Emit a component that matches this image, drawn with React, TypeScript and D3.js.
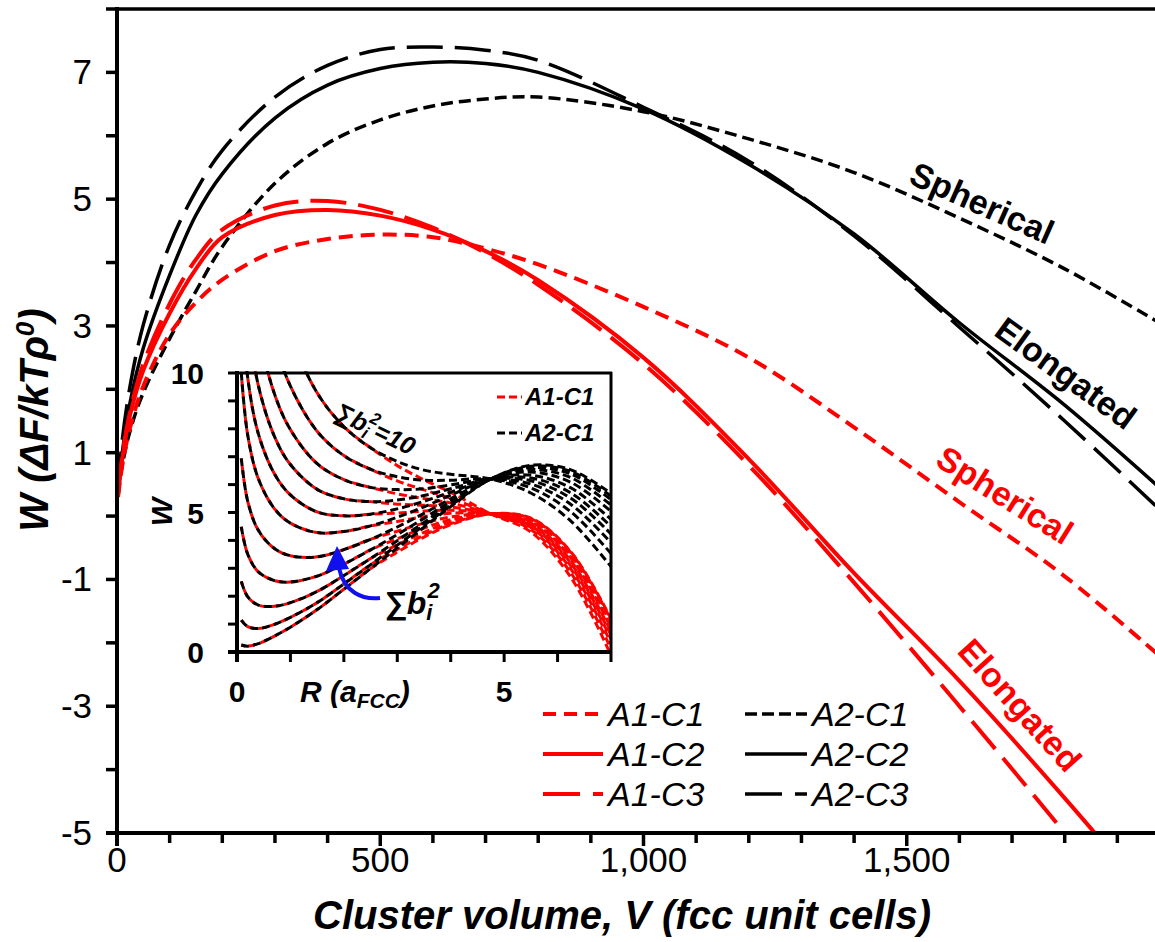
import React from 'react';
import * as d3 from 'd3';

// ---------- main chart data ----------
const volumes = [2, 10, 25, 50, 100, 150, 200, 300, 400, 500, 600, 700, 800, 1000, 1200, 1400, 1600, 1800, 2000];
const wA1C1 = [0.3, 0.8, 1.4, 2.05, 2.87, 3.37, 3.73, 4.18, 4.37, 4.44, 4.4, 4.22, 3.97, 3.3, 2.5, 1.4, 0.22, -0.95, -2.35];
const wA1C2 = [0.35, 0.9, 1.6, 2.3, 3.2, 3.9, 4.4, 4.75, 4.83, 4.74, 4.52, 4.18, 3.72, 2.5, 0.9, -0.9, -2.6, -4.45, -6.4];
const wA1C3 = [0.35, 0.95, 1.65, 2.4, 3.35, 4.05, 4.52, 4.9, 4.97, 4.83, 4.55, 4.15, 3.65, 2.4, 0.8, -1.05, -3.0, -5.0, -7.1];
const wA2C1 = [0.35, 0.8, 1.35, 1.95, 2.8, 3.55, 4.25, 5.25, 5.88, 6.25, 6.47, 6.58, 6.61, 6.38, 5.95, 5.42, 4.7, 3.9, 2.95];
const wA2C2 = [0.4, 1.0, 1.8, 2.65, 3.8, 4.75, 5.4, 6.28, 6.8, 7.06, 7.16, 7.14, 7.0, 6.42, 5.55, 4.45, 3.05, 1.75, 0.3];
const wA2C3 = [0.45, 1.2, 2.06, 3.02, 4.28, 5.13, 5.77, 6.61, 7.11, 7.36, 7.4, 7.35, 7.19, 6.45, 5.6, 4.42, 2.98, 1.5, -0.05];

const seriesNames = ['A1-C1', 'A1-C2', 'A1-C3', 'A2-C1', 'A2-C2', 'A2-C3'];
const seriesValues = [wA1C1, wA1C2, wA1C3, wA2C1, wA2C2, wA2C3];

const xTickLabels = [0, 500, 1000, 1500];
const yTickLabels = [-5, -3, -1, 1, 3, 5, 7];

// ---------- inset data ----------
const insetR = [0.08, 0.2, 0.4, 0.7, 1.0, 1.5, 2.0, 2.5, 3.0, 3.5, 4.0, 4.75, 5.5, 6.25, 7.0];
const insetA2C1 = [
  [0.25, 0.21, 0.30, 0.57, 0.89, 1.52, 2.25, 2.99, 3.73, 4.47, 5.21, 6.2, 6.69, 6.53, 5.68],
  [1.14, 0.91, 0.84, 0.99, 1.24, 1.77, 2.44, 3.13, 3.83, 4.54, 5.25, 6.2, 6.66, 6.47, 5.59],
  [2.53, 1.98, 1.68, 1.64, 1.77, 2.17, 2.74, 3.35, 3.99, 4.64, 5.31, 6.2, 6.61, 6.38, 5.46],
  [4.49, 3.51, 2.87, 2.56, 2.51, 2.72, 3.15, 3.66, 4.21, 4.79, 5.39, 6.2, 6.54, 6.25, 5.27],
  [6.94, 5.41, 4.36, 3.71, 3.45, 3.41, 3.67, 4.04, 4.48, 4.97, 5.49, 6.2, 6.45, 6.08, 5.04],
  [10.01, 7.78, 6.21, 5.14, 4.62, 4.28, 4.32, 4.52, 4.83, 5.20, 5.62, 6.2, 6.34, 5.88, 4.75],
  [12.66, 9.84, 7.82, 6.39, 5.63, 5.02, 4.88, 4.94, 5.13, 5.40, 5.73, 6.2, 6.24, 5.70, 4.50],
  [15.52, 12.06, 9.55, 7.73, 6.72, 5.83, 5.49, 5.39, 5.45, 5.61, 5.85, 6.2, 6.14, 5.51, 4.23],
  [18.79, 14.59, 11.53, 9.26, 7.97, 6.75, 6.18, 5.90, 5.82, 5.85, 5.99, 6.2, 6.02, 5.29, 3.92],
  [22.87, 17.76, 14.0, 11.17, 9.53, 7.91, 7.04, 6.55, 6.28, 6.16, 6.16, 6.2, 5.88, 5.02, 3.53],
  [27.77, 21.54, 16.97, 13.47, 11.39, 9.29, 8.08, 7.32, 6.83, 6.52, 6.37, 6.2, 5.70, 4.69, 3.06],
];
// A1-C1 coincides with A2-C1 up to R = 2.5; its own values from R = 3.0 on
const insetA1C1Tail = [
  [3.58, 4.12, 4.56, 4.95, 4.80, 3.59, 1.19],
  [3.68, 4.19, 4.60, 4.95, 4.78, 3.56, 1.15],
  [3.84, 4.29, 4.66, 4.95, 4.76, 3.52, 1.08],
  [4.06, 4.44, 4.74, 4.95, 4.72, 3.45, 0.99],
  [4.33, 4.62, 4.84, 4.95, 4.68, 3.37, 0.87],
  [4.68, 4.85, 4.97, 4.95, 4.62, 3.26, 0.73],
  [4.98, 5.05, 5.08, 4.95, 4.57, 3.18, 0.60],
  [5.30, 5.26, 5.20, 4.95, 4.52, 3.08, 0.46],
  [5.67, 5.50, 5.34, 4.95, 4.46, 2.97, 0.31],
  [6.13, 5.81, 5.51, 4.95, 4.39, 2.83, 0.11],
  [6.68, 6.17, 5.72, 4.95, 4.30, 2.67, -0.12],
];
const insetXTickLabels = [0, 5];
const insetYTickLabels = [0, 5, 10];

// ---------- styles ----------
const RED = '#ff0000';
const BLUE = '#1010ee';
const seriesStyle: Record<string, { color: string; dash: string | null; width: number; legendDash: string | null }> = {
  'A1-C1': { color: RED, dash: '14 8', width: 4, legendDash: '13 8' },
  'A1-C2': { color: RED, dash: null, width: 4, legendDash: null },
  'A1-C3': { color: RED, dash: '36 12', width: 4, legendDash: '37 13' },
  'A2-C1': { color: '#000', dash: '12 6', width: 3.5, legendDash: '12 5' },
  'A2-C2': { color: '#000', dash: null, width: 3.5, legendDash: null },
  'A2-C3': { color: '#000', dash: '36 12', width: 3.5, legendDash: '37 13' },
};

const FONT = "'Liberation Sans', Arial, Helvetica, sans-serif";

export default function App() {
  const width = 1155;
  const height = 942;

  const x = d3.scaleLinear().domain([0, 2000]).range([117, 1170]);
  const y = d3.scaleLinear().domain([-5, 8]).range([833, 9]);

  const line = d3
    .line<[number, number]>()
    .x((d) => x(d[0]))
    .y((d) => y(d[1]))
    .curve(d3.curveCatmullRom.alpha(0.5));

  // inset scales
  const ix = d3.scaleLinear().domain([0, 7]).range([237, 611]);
  const iy = d3.scaleLinear().domain([0, 10]).range([652, 373]);
  const iline = d3
    .line<[number, number]>()
    .x((d) => ix(d[0]))
    .y((d) => iy(d[1]))
    .curve(d3.curveCatmullRom.alpha(0.5));

  const xMinor = d3.range(100, 2000, 100);
  const yMinor = d3.range(-5, 9, 1);

  const drawOrder = [3, 4, 5, 0, 1, 2];

  const legendRows = [
    ['A1-C1', 'A2-C1'],
    ['A1-C2', 'A2-C2'],
    ['A1-C3', 'A2-C3'],
  ];

  const labelStyle = { fontFamily: FONT, fontWeight: 700 as const };

  return (
    <svg width={width} height={height} style={{ display: 'block', position: 'absolute', left: 0, top: 0, background: '#fff' }}>
      <rect x={0} y={0} width={width} height={height} fill="#fff" />
      <defs>
        <clipPath id="plotClip">
          <rect x={118} y={9} width={1100} height={824} />
        </clipPath>
        <clipPath id="insetClip">
          <rect x={238} y={371} width={375} height={283} />
        </clipPath>
      </defs>

      {/* main curves */}
      <g clipPath="url(#plotClip)">
        {drawOrder.map((i) => {
          const name = seriesNames[i];
          const st = seriesStyle[name];
          const pts = volumes.map((v, j) => [v, seriesValues[i][j]] as [number, number]);
          return (
            <path
              key={name}
              d={line(pts) || ''}
              fill="none"
              stroke={st.color}
              strokeWidth={st.width}
              strokeDasharray={st.dash || undefined}
            />
          );
        })}
      </g>

      {/* main axes */}
      <line x1={115} x2={1155} y1={9} y2={9} stroke="#000" strokeWidth={3.5} />
      <line x1={117} x2={117} y1={7} y2={846} stroke="#000" strokeWidth={4} />
      <line x1={106} x2={1155} y1={833} y2={833} stroke="#000" strokeWidth={4} />
      {xMinor.map((v) => (
        <line key={'xt' + v} x1={x(v)} x2={x(v)} y1={833} y2={v % 500 === 0 ? 846 : 843} stroke="#000" strokeWidth={3.5} />
      ))}
      {yMinor.map((v) => (
        <line key={'yt' + v} x1={106} x2={117} y1={y(v)} y2={y(v)} stroke="#000" strokeWidth={3.5} />
      ))}
      {xTickLabels.map((v) => (
        <text key={'xl' + v} x={x(v)} y={872} textAnchor="middle" fontFamily={FONT} fontSize={35} fill="#000">
          {d3.format(',')(v)}
        </text>
      ))}
      {yTickLabels.map((v) => (
        <text key={'yl' + v} x={92} y={y(v) + 12} textAnchor="end" fontFamily={FONT} fontSize={35} fill="#000">
          {v}
        </text>
      ))}

      {/* axis titles */}
      <text x={622} y={929} textAnchor="middle" {...labelStyle} fontStyle="italic" fontSize={40} fill="#000">
        Cluster volume, V (fcc unit cells)
      </text>
      <text transform="translate(48,420) rotate(-90)" textAnchor="middle" {...labelStyle} fontStyle="italic" fontSize={40} fill="#000">
        W (ΔF/kTρ<tspan dy={-14} fontSize={26}>0</tspan><tspan dy={14}>)</tspan>
      </text>

      {/* curve annotations */}
      <text transform="translate(982,203) rotate(24)" textAnchor="middle" dominantBaseline="central" {...labelStyle} fontSize={34} fill="#000">
        Spherical
      </text>
      <text transform="translate(1066,373) rotate(36)" textAnchor="middle" dominantBaseline="central" {...labelStyle} fontSize={34} fill="#000">
        Elongated
      </text>
      <text transform="translate(1005,495) rotate(32)" textAnchor="middle" dominantBaseline="central" {...labelStyle} fontSize={34} fill={RED}>
        Spherical
      </text>
      <text transform="translate(1020,705) rotate(48)" textAnchor="middle" dominantBaseline="central" {...labelStyle} fontSize={34} fill={RED}>
        Elongated
      </text>

      {/* legend */}
      {legendRows.map((row, r) =>
        row.map((name, c) => {
          const st = seriesStyle[name];
          const ly = 714 + r * 40;
          const lx0 = c === 0 ? 543 : 745;
          const lx1 = c === 0 ? 603 : 807;
          return (
            <g key={name}>
              <line x1={lx0} x2={lx1} y1={ly} y2={ly} stroke={st.color} strokeWidth={st.width} strokeDasharray={st.legendDash || undefined} />
              <text x={lx1 + 5} y={ly + 12} fontFamily={FONT} fontStyle="italic" fontSize={34} fill="#000">
                {name}
              </text>
            </g>
          );
        })
      )}

      {/* inset */}
      <rect x={237} y={373} width={374} height={279} fill="#fff" />
      <g clipPath="url(#insetClip)">
        {insetA2C1.map((vals, i) => {
          const pts = insetR.map((r, j) => [r, j < 8 ? vals[j] : insetA1C1Tail[i][j - 8]] as [number, number]);
          return <path key={'ir' + i} d={iline(pts) || ''} fill="none" stroke={RED} strokeWidth={3} strokeDasharray="8 4" strokeDashoffset={4} />;
        })}
        {insetA2C1.map((vals, i) => {
          const pts = insetR.map((r, j) => [r, vals[j]] as [number, number]);
          return <path key={'ib' + i} d={iline(pts) || ''} fill="none" stroke="#000" strokeWidth={3} strokeDasharray="8 4" />;
        })}
      </g>
      <line x1={237} x2={612} y1={373} y2={373} stroke="#000" strokeWidth={3} />
      <line x1={611} x2={611} y1={372} y2={652} stroke="#000" strokeWidth={3} />
      <line x1={237} x2={237} y1={371} y2={662} stroke="#000" strokeWidth={4} />
      <line x1={228} x2={612} y1={652} y2={652} stroke="#000" strokeWidth={4} />
      {d3.range(1, 8).map((v) => (
        <line key={'ixt' + v} x1={ix(v)} x2={ix(v)} y1={652} y2={662} stroke="#000" strokeWidth={3} />
      ))}
      {d3.range(1, 11).map((v) => (
        <line key={'iyt' + v} x1={228} x2={237} y1={iy(v)} y2={iy(v)} stroke="#000" strokeWidth={3} />
      ))}
      {insetXTickLabels.map((v) => (
        <text key={'ixl' + v} x={ix(v)} y={702} textAnchor="middle" {...labelStyle} fontSize={30} fill="#000">
          {v}
        </text>
      ))}
      {insetYTickLabels.map((v) => (
        <text key={'iyl' + v} x={204} y={iy(v) + 11} textAnchor="end" {...labelStyle} fontSize={30} fill="#000">
          {v}
        </text>
      ))}
      <text x={300} y={702} {...labelStyle} fontStyle="italic" fontSize={30} fill="#000">
        R (a<tspan dy={6} fontSize={21}>FCC</tspan><tspan dy={-6}>)</tspan>
      </text>
      <text transform="translate(172,512) rotate(-90)" textAnchor="middle" {...labelStyle} fontStyle="italic" fontSize={30} fill="#000">
        W
      </text>

      {/* inset legend */}
      <line x1={497} x2={522} y1={397} y2={397} stroke={RED} strokeWidth={3} strokeDasharray="8 4" />
      <text x={525} y={405} {...labelStyle} fontStyle="italic" fontSize={24} fill="#000">A1-C1</text>
      <line x1={497} x2={522} y1={433} y2={433} stroke="#000" strokeWidth={3} strokeDasharray="8 4" />
      <text x={525} y={441} {...labelStyle} fontStyle="italic" fontSize={24} fill="#000">A2-C1</text>

      {/* sum b_i^2 = 10 annotation */}
      <text transform="translate(333,418) rotate(26)" {...labelStyle} fontStyle="italic" fontSize={25} fill="#000">
        ∑b<tspan dy={5} fontSize={17}>i</tspan><tspan dx={-4} dy={-17} fontSize={17}>2</tspan><tspan dy={12}>=10</tspan>
      </text>

      {/* blue arrow */}
      <path d="M380,598 C362,600 344,592 339,568" fill="none" stroke={BLUE} strokeWidth={4} />
      <polygon points="337,546 326,571 349,569" fill={BLUE} />
      <text x={384} y={614} {...labelStyle} fontStyle="italic" fontSize={32} fill="#000">
        ∑b<tspan dy={6} fontSize={22}>i</tspan><tspan dx={-5} dy={-22} fontSize={22}>2</tspan>
      </text>
    </svg>
  );
}
